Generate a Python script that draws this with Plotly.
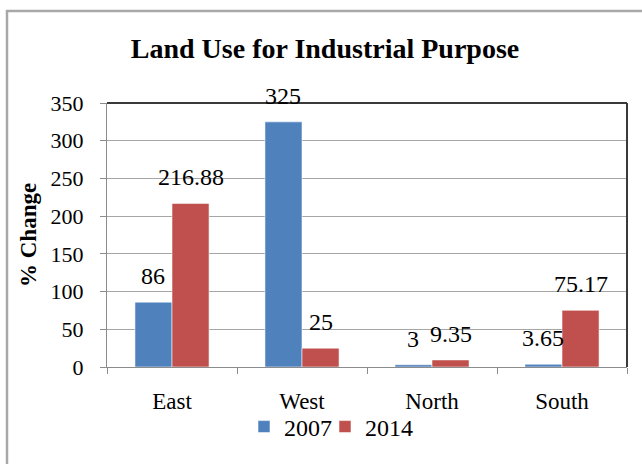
import plotly.graph_objects as go

regions = ["East", "West", "North", "South"]
change_2007 = [86, 325, 3, 3.65]
change_2014 = [216.88, 25, 9.35, 75.17]
y_ticks = [0, 50, 100, 150, 200, 250, 300, 350]

serif = "Liberation Serif"
W, H = 642, 464
L, R, T, B = 107, 15, 103, 97
PW, PH = W - L - R, H - T - B
BARGAP = 0.43
series = [("2007", change_2007, "#4F81BD", "legend"),
          ("2014", change_2014, "#C0504D", "legend2")]

fig = go.Figure()
for name, vals, color, leg in series:
    fig.add_trace(go.Bar(
        name=name, x=regions, y=vals, legend=leg, showlegend=True,
        marker=dict(color=color, line=dict(color="rgba(255,255,255,0.55)", width=1)),
    ))

# value labels sit a little above each bar, centred on it
annotations = []
bar_w = (1 - BARGAP) / len(series)
for k, (name, vals, color, leg) in enumerate(series):
    offset = -(1 - BARGAP) / 2 + bar_w * (k + 0.5)
    for i, v in enumerate(vals):
        annotations.append(dict(
            x=i + offset, y=v, xref="x", yref="y", text=f"{v:g}", showarrow=False,
            xanchor="center", yanchor="bottom", yshift=11,
            font=dict(family=serif, size=24, color="black")))

annotations.append(dict(text="<b>% Change</b>", textangle=-90, showarrow=False,
                        xref="paper", yref="paper", x=(28 - L) / PW, y=0.5,
                        xanchor="center", yanchor="middle",
                        font=dict(family=serif, size=23, color="black")))

legend_style = dict(orientation="h", xref="container", xanchor="left",
                    y=1 - 427 / H, yref="container", yanchor="middle",
                    bgcolor="rgba(0,0,0,0)", itemwidth=30, visible=True,
                    font=dict(family=serif, size=24, color="black"))

fig.update_layout(
    width=W, height=H, showlegend=True,
    margin=dict(l=L, r=R, t=T, b=B, autoexpand=False),
    paper_bgcolor="white", plot_bgcolor="white",
    barmode="group", bargap=BARGAP, bargroupgap=0,
    font=dict(family=serif, color="black"),
    title=dict(text="<b>Land Use for Industrial Purpose</b>",
               font=dict(family=serif, size=28, color="black"),
               x=325 / W, xref="container", xanchor="center",
               y=1 - 48 / H, yref="container", yanchor="middle"),
    legend=dict(x=244 / W, **legend_style),
    legend2=dict(x=325 / W, **legend_style),
    xaxis=dict(showgrid=False, showline=True, linecolor="#8C8C8C", linewidth=1,
               ticks="outside", tickson="boundaries", ticklen=6, tickcolor="#8C8C8C",
               tickfont=dict(family=serif, size=23, color="black"),
               ticklabelstandoff=13, automargin=False),
    yaxis=dict(range=[0, 350], tickvals=y_ticks, showgrid=True, gridcolor="#A6A6A6",
               gridwidth=1, showline=True, linecolor="#8C8C8C", linewidth=1,
               ticks="outside", ticklen=6, tickcolor="#8C8C8C", zeroline=False,
               tickfont=dict(family=serif, size=22, color="black"),
               ticklabelstandoff=12, automargin=False),
    annotations=annotations,
    shapes=[
        # dark frame lines on the top and right of the plot area
        dict(type="line", xref="paper", yref="paper", x0=0, x1=1, y0=1, y1=1,
             line=dict(color="#3A3A3A", width=2)),
        dict(type="line", xref="paper", yref="paper", x0=1, x1=1, y0=0, y1=1,
             line=dict(color="#3A3A3A", width=2)),
        # outer chart border, running off the right and bottom edges
        dict(type="rect", xref="paper", yref="paper",
             x0=(7 - L) / PW, x1=(W + 20 - L) / PW,
             y0=-(B + 20) / PH, y1=1 + (T - 11) / PH,
             line=dict(color="#A8A8A8", width=2.5), layer="below"),
    ],
)

fig.write_html("out.html")
